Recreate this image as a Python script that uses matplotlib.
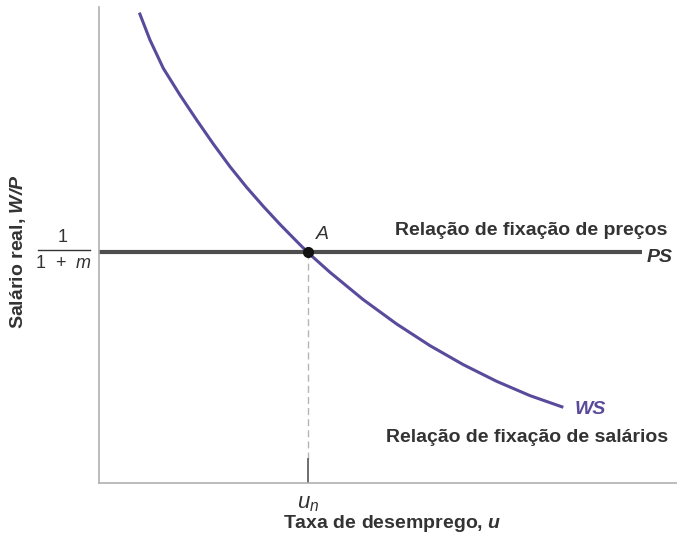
import numpy as np
import matplotlib
matplotlib.use("Agg")
import matplotlib.pyplot as plt

plt.rcParams["font.family"] = ["Liberation Sans", "DejaVu Sans"]
plt.rcParams["mathtext.fontset"] = "custom"
plt.rcParams["mathtext.rm"] = "Liberation Sans"
plt.rcParams["mathtext.it"] = "Liberation Sans:italic"
plt.rcParams["mathtext.bf"] = "Liberation Sans:bold"
plt.rcParams["mathtext.bfit"] = "Liberation Sans:bold:italic"

# WS curve (unitless axes, 0..10 on both)
ws_u = [0.698, 0.882, 1.113, 1.401, 1.690, 1.978, 2.266, 2.555, 2.843, 3.131,
        3.420, 3.610, 3.997, 4.573, 5.150, 5.727, 6.303, 6.880, 7.457, 8.033]
ws_w = [9.881, 9.307, 8.711, 8.151, 7.626, 7.122, 6.646, 6.211, 5.812, 5.434,
        5.077, 4.846, 4.426, 3.851, 3.340, 2.885, 2.486, 2.136, 1.835, 1.590]

ps_level = 4.846
ps_end = 9.39
u_n = 3.61

purple = "#5a4a9c"
dark = "#333333"

fig = plt.figure(figsize=(6.77, 5.35), dpi=100)
ax = fig.add_axes([99 / 677, 1 - 483 / 535, 578 / 677, 476 / 535])
ax.set_xlim(0, 10)
ax.set_ylim(0, 10)

for s in ["top", "right"]:
    ax.spines[s].set_visible(False)
for s in ["left", "bottom"]:
    ax.spines[s].set_color("#b0b0b0")
    ax.spines[s].set_linewidth(1.2)
ax.set_xticks([])
ax.set_yticks([])

# PS line
ax.plot([0, ps_end], [ps_level, ps_level], color="#4d4d4d", lw=3,
        solid_capstyle="butt", zorder=2)
# dashed guide down to u_n, plus the short tick
ax.plot([u_n, u_n], [0.5, ps_level], color="#b5b5b5", lw=1, ls=(0, (5, 3)), zorder=1)
ax.plot([u_n, u_n], [0, 0.5], color="#555555", lw=1.2, zorder=1)
# WS curve
ax.plot(ws_u, ws_w, color=purple, lw=2.2, zorder=3, solid_capstyle="butt",
        solid_joinstyle="round")
# point A
ax.plot([u_n], [ps_level], "o", color="#111111", ms=7, zorder=4)

ax.text(u_n + 0.15, ps_level + 0.2, "A", fontsize=14, style="italic", color=dark, va="bottom")
ax.text(9.84, ps_level + 0.28, "Relação de fixação de preços", fontsize=14, fontweight="bold",
        color=dark, ha="right", va="bottom")
ax.text(9.48, ps_level - 0.1, "PS", fontsize=14, fontweight="bold", style="italic",
        color=dark, ha="left", va="center")
ax.text(8.22, 1.55, "WS", fontsize=14, fontweight="bold", style="italic",
        color=purple, ha="left", va="center")
ax.text(9.84, 0.95, "Relação de fixação de salários", fontsize=14, fontweight="bold",
        color=dark, ha="right", va="center")

# u_n label and axis titles
ax.text(u_n, -0.2, "$u_n$", fontsize=16, color=dark, ha="center", va="top", clip_on=False)
fig.text(392 / 677, 1 - 523 / 535, "Taxa de desemprego, $\\mathbfit{u}$", fontsize=14,
         fontweight="bold", color=dark, ha="center", va="center")
fig.text(18 / 677, 1 - 252 / 535, "Salário real, $\\mathbfit{W/P}$", fontsize=14,
         fontweight="bold", color=dark, ha="center", va="center", rotation=90)

# 1/(1+m) label
fig.text(63 / 677, 1 - 237 / 535, "1", fontsize=13, color=dark, ha="center", va="center")
fig.text(63 / 677, 1 - 263 / 535, "1  +  $m$", fontsize=13, color=dark, ha="center", va="center")
fig.add_artist(plt.Line2D([38 / 677, 90 / 677], [1 - 250 / 535, 1 - 250 / 535],
                          color=dark, lw=1))

fig.savefig("out.png", dpi=100)
